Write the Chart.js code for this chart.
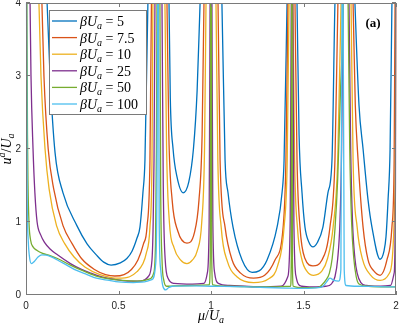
<!DOCTYPE html>
<html>
<head>
<meta charset="utf-8">
<script src="https://cdn.jsdelivr.net/npm/chart.js@4.4.1/dist/chart.umd.min.js"></script>
<style>
html, body { margin: 0; padding: 0; background: #fff; }
canvas { display: block; }
</style>
</head>
<body>
<canvas id="chart" width="399" height="326"></canvas>
<script>
// values: [mu/U_a, u^a/U_a]; 8 = off the top of the axes
const betaValues = ["5", "7.5", "10", "25", "50", "100"];
const lineColors = ["#0072BD", "#D95319", "#EDB120", "#7E2F8E", "#77AC30", "#4DBEEE"];
const xTicks = [0, 0.5, 1, 1.5, 2];
const yTicks = [0, 1, 2, 3, 4];

const beta5 = [[0,8],[0.114,4],[0.13,3],[0.157,1.95],[0.2,1.4],[0.275,0.95],[0.33,0.7],[0.38,0.55],[0.42,0.45],[0.46,0.41],[0.51,0.44],[0.545,0.5],[0.573,0.6],[0.6,0.78],[0.616,0.93],[0.632,1.4],[0.643,1.85],[0.659,4],[0.716,8],[0.773,4],[0.78,2.7],[0.795,2.0],[0.816,1.62],[0.849,1.4],[0.88,1.55],[0.905,2.0],[0.925,2.8],[0.941,4],[1.0,8],[1.059,4],[1.076,1.85],[1.092,1.4],[1.119,0.93],[1.168,0.48],[1.222,0.31],[1.26,0.33],[1.303,0.48],[1.357,0.93],[1.384,1.4],[1.395,1.85],[1.411,4],[1.438,8],[1.465,4],[1.476,2.2],[1.492,1.4],[1.508,0.93],[1.53,0.72],[1.551,0.66],[1.575,0.72],[1.605,0.93],[1.632,1.4],[1.654,1.85],[1.67,4],[1.725,8],[1.778,4],[1.8,2.6],[1.822,2.0],[1.849,1.3],[1.87,0.93],[1.914,0.49],[1.935,0.6],[1.946,0.8],[1.957,1.3],[1.968,2.0],[1.978,4],[2.0,8]];

const beta7p5 = [[0,8],[0.086,4],[0.097,3],[0.12,2],[0.15,1.45],[0.2,0.95],[0.25,0.7],[0.3,0.5],[0.37,0.35],[0.43,0.28],[0.48,0.26],[0.53,0.28],[0.57,0.35],[0.605,0.48],[0.635,0.7],[0.654,0.93],[0.67,1.85],[0.678,4],[0.719,8],[0.762,4],[0.772,2.2],[0.79,1.3],[0.82,0.88],[0.87,0.71],[0.91,0.85],[0.935,1.3],[0.952,2.2],[0.962,4],[1.0,8],[1.038,4],[1.049,1.85],[1.076,0.93],[1.114,0.48],[1.16,0.3],[1.23,0.23],[1.29,0.27],[1.346,0.48],[1.39,0.93],[1.405,1.85],[1.416,4],[1.436,8],[1.454,4],[1.465,1.85],[1.481,0.93],[1.508,0.5],[1.551,0.4],[1.6,0.48],[1.643,0.93],[1.67,1.85],[1.686,4],[1.727,8],[1.768,4],[1.78,2.6],[1.795,1.85],[1.822,0.93],[1.849,0.48],[1.88,0.33],[1.914,0.27],[1.951,0.48],[1.978,0.93],[1.99,1.85],[1.995,4],[2.0,8]];

const beta10 = [[0,8],[0.07,4],[0.081,3],[0.103,2],[0.125,1.45],[0.165,0.95],[0.21,0.7],[0.26,0.52],[0.32,0.38],[0.4,0.28],[0.5,0.23],[0.56,0.25],[0.6,0.32],[0.63,0.42],[0.65,0.57],[0.67,0.93],[0.681,1.85],[0.686,4],[0.719,8],[0.751,4],[0.76,2.0],[0.775,1.0],[0.8,0.65],[0.835,0.48],[0.87,0.43],[0.9,0.48],[0.925,0.6],[0.95,1.0],[0.965,2.0],[0.973,4],[1.0,8],[1.027,4],[1.037,1.85],[1.055,0.93],[1.09,0.45],[1.14,0.25],[1.23,0.17],[1.31,0.22],[1.36,0.4],[1.395,0.93],[1.412,1.85],[1.422,4],[1.432,8],[1.443,4],[1.452,1.85],[1.468,0.9],[1.49,0.5],[1.52,0.32],[1.555,0.27],[1.6,0.33],[1.63,0.5],[1.66,0.93],[1.685,1.85],[1.703,4],[1.73,8],[1.757,4],[1.768,1.85],[1.79,0.93],[1.82,0.48],[1.86,0.28],[1.914,0.2],[1.96,0.28],[1.98,0.5],[1.992,1.2],[1.998,3],[2.0,8]];

const beta25 = [[0,8],[0.022,4],[0.027,3],[0.038,2],[0.048,1.4],[0.06,1.0],[0.08,0.82],[0.1,0.72],[0.13,0.63],[0.17,0.55],[0.24,0.43],[0.3,0.35],[0.35,0.3],[0.42,0.24],[0.49,0.21],[0.56,0.19],[0.62,0.19],[0.66,0.25],[0.681,0.48],[0.687,0.93],[0.692,1.85],[0.697,4],[0.716,8],[0.735,4],[0.742,1.5],[0.752,0.5],[0.77,0.22],[0.8,0.16],[0.9,0.15],[0.962,0.16],[0.98,0.3],[0.99,1.0],[0.995,4],[1.0,8],[1.005,4],[1.01,1.0],[1.02,0.3],[1.04,0.16],[1.1,0.13],[1.3,0.11],[1.38,0.12],[1.415,0.25],[1.428,1.0],[1.434,4],[1.437,8],[1.442,4],[1.448,1.0],[1.46,0.25],[1.49,0.12],[1.55,0.11],[1.62,0.12],[1.65,0.15],[1.67,0.25],[1.685,0.5],[1.697,1.0],[1.706,2.0],[1.714,4],[1.73,8],[1.746,4],[1.755,2.0],[1.765,1.0],[1.778,0.5],[1.79,0.3],[1.81,0.17],[1.84,0.13],[1.9,0.12],[1.97,0.13],[1.99,0.3],[1.997,1.5],[2.0,8]];

const beta50 = [[0,8],[0.005,4],[0.008,2.2],[0.011,1.5],[0.016,1.0],[0.025,0.75],[0.038,0.66],[0.06,0.61],[0.09,0.57],[0.13,0.54],[0.17,0.5],[0.24,0.41],[0.3,0.34],[0.38,0.26],[0.45,0.22],[0.52,0.2],[0.6,0.19],[0.64,0.2],[0.67,0.22],[0.69,0.3],[0.7,0.7],[0.705,2],[0.708,4],[0.716,8],[0.724,4],[0.728,1.5],[0.735,0.5],[0.745,0.2],[0.76,0.12],[0.8,0.125],[0.9,0.13],[0.99,0.14],[0.996,0.5],[1.0,8],[1.004,0.5],[1.01,0.14],[1.1,0.12],[1.3,0.11],[1.43,0.12],[1.434,0.5],[1.437,8],[1.44,0.5],[1.445,0.12],[1.5,0.1],[1.58,0.105],[1.6,0.14],[1.62,0.2],[1.64,0.3],[1.655,0.5],[1.67,0.9],[1.685,1.6],[1.7,2.8],[1.715,4],[1.73,8],[1.741,4],[1.75,2.0],[1.76,1.0],[1.772,0.5],[1.785,0.25],[1.8,0.15],[1.85,0.12],[2.0,0.11]];

const beta100 = [[0,8],[0.003,4],[0.006,1.5],[0.012,0.75],[0.02,0.5],[0.03,0.43],[0.045,0.46],[0.065,0.52],[0.086,0.55],[0.11,0.545],[0.14,0.52],[0.17,0.48],[0.22,0.41],[0.27,0.34],[0.33,0.28],[0.38,0.23],[0.45,0.2],[0.5,0.18],[0.58,0.17],[0.64,0.18],[0.68,0.21],[0.7,0.4],[0.707,1.2],[0.712,4],[0.714,8],[0.716,4],[0.72,1.0],[0.728,0.35],[0.74,0.12],[0.755,0.07],[0.77,0.1],[0.79,0.12],[0.9,0.125],[1.0,0.12],[1.2,0.11],[1.4,0.095],[1.5,0.09],[1.58,0.1],[1.605,0.12],[1.625,0.18],[1.643,0.23],[1.665,0.2],[1.69,0.19],[1.702,0.35],[1.708,4],[1.711,8],[1.714,4],[1.72,0.35],[1.73,0.13],[1.8,0.12],[1.9,0.115],[2.0,0.11]];

const series = [beta5, beta7p5, beta10, beta25, beta50, beta100];

const serif = '"Liberation Serif", "DejaVu Serif", serif';

// draws a run of [text, style] pieces; style: i = italic, r = roman, sub / sup = small italic
function drawMath(ctx, x, y, parts, measureOnly) {
    let w = 0;
    for (const [t, st] of parts) {
        let dy = 0;
        if (st === "sub") { ctx.font = "italic 10px " + serif; dy = 3; }
        else if (st === "sup") { ctx.font = "italic 10px " + serif; dy = -6; }
        else if (st === "i") ctx.font = "italic 14px " + serif;
        else ctx.font = "14px " + serif;
        if (!measureOnly) ctx.fillText(t, x + w, y + dy);
        w += ctx.measureText(t).width;
    }
    return w;
}

const decorations = {
    id: "decorations",
    afterDraw(chart) {
        const ctx = chart.ctx, a = chart.chartArea;
        const xs = chart.scales.x, ys = chart.scales.y;
        ctx.save();

        // axes box and inward ticks
        ctx.strokeStyle = "#7a7a7a";
        ctx.lineWidth = 1;
        ctx.strokeRect(a.left + 0.5, a.top + 0.5, a.right - a.left - 1, a.bottom - a.top - 1);
        ctx.beginPath();
        xTicks.forEach(v => {
            const px = Math.round(xs.getPixelForValue(v)) + 0.5;
            ctx.moveTo(px, a.bottom); ctx.lineTo(px, a.bottom - 4);
            ctx.moveTo(px, a.top); ctx.lineTo(px, a.top + 4);
        });
        yTicks.forEach(v => {
            const py = Math.round(ys.getPixelForValue(v)) - 0.5;
            ctx.moveTo(a.left, py); ctx.lineTo(a.left + 4, py);
            ctx.moveTo(a.right, py); ctx.lineTo(a.right - 4, py);
        });
        ctx.stroke();

        // legend
        const lx = 49, ly = 10, lw = 97, lh = 104;
        ctx.fillStyle = "#fff";
        ctx.fillRect(lx, ly, lw, lh);
        ctx.strokeStyle = "#7a7a7a";
        ctx.strokeRect(lx + 0.5, ly + 0.5, lw, lh);
        chart.data.datasets.forEach((ds, i) => {
            const y = 21 + i * 16.6;
            ctx.strokeStyle = ds.borderColor;
            ctx.lineWidth = 1.3;
            ctx.beginPath();
            ctx.moveTo(52, y); ctx.lineTo(77, y);
            ctx.stroke();
            ctx.fillStyle = "#000";
            drawMath(ctx, 80, y + 5, [["β", "i"], ["U", "i"], ["a", "sub"], [" = ", "r"], [betaValues[i], "r"]]);
        });

        // panel label
        ctx.fillStyle = "#000";
        ctx.font = "bold 13px " + serif;
        ctx.textAlign = "center";
        ctx.fillText("(a)", 373, 27);
        ctx.textAlign = "left";

        // axis titles
        const xt = [["μ", "i"], ["/", "r"], ["U", "i"], ["a", "sub"]];
        const xw = drawMath(ctx, 0, 0, xt, true);
        drawMath(ctx, (a.left + a.right) / 2 - xw / 2, 320, xt);

        const yt = [["u", "i"], ["a", "sup"], ["/", "r"], ["U", "i"], ["a", "sub"]];
        ctx.translate(11, (a.top + a.bottom) / 2);
        ctx.rotate(-Math.PI / 2);
        const yw = drawMath(ctx, 0, 0, yt, true);
        drawMath(ctx, -yw / 2, 0, yt);

        ctx.restore();
    }
};

const tickFont = { family: '"Liberation Sans", Arial, sans-serif', size: 10 };

new Chart(document.getElementById("chart"), {
    type: "line",
    data: {
        datasets: series.map((s, i) => ({
            label: "βUa = " + betaValues[i],
            data: s.map(p => ({ x: p[0], y: p[1] })),
            borderColor: lineColors[i],
            borderWidth: 1.3,
            pointRadius: 0,
            fill: false,
            cubicInterpolationMode: "monotone",
            order: series.length - i,
            clip: { left: 2, right: 3, top: 0, bottom: 2 }
        }))
    },
    options: {
        responsive: false,
        animation: false,
        devicePixelRatio: 1,
        layout: { padding: { top: 3, right: 3, left: 0, bottom: 0 } },
        plugins: { legend: { display: false }, tooltip: { enabled: false } },
        scales: {
            x: {
                type: "linear",
                min: 0,
                max: 2,
                afterBuildTicks: s => { s.ticks = xTicks.map(v => ({ value: v })); },
                afterFit: s => { s.height = 31; s.paddingLeft = 0; s.paddingRight = 0; },
                grid: { display: false, drawTicks: false },
                border: { display: false },
                ticks: { padding: 5, color: "#262626", font: tickFont, maxRotation: 0, autoSkip: false, callback: v => String(v) }
            },
            y: {
                type: "linear",
                min: 0,
                max: 4,
                afterBuildTicks: s => { s.ticks = yTicks.map(v => ({ value: v })); },
                afterFit: s => { s.width = 26; s.paddingTop = 0; s.paddingBottom = 0; },
                grid: { display: false, drawTicks: false },
                border: { display: false },
                ticks: { padding: 5, color: "#262626", font: tickFont, callback: v => String(v) }
            }
        }
    },
    plugins: [decorations]
});
</script>
</body>
</html>
